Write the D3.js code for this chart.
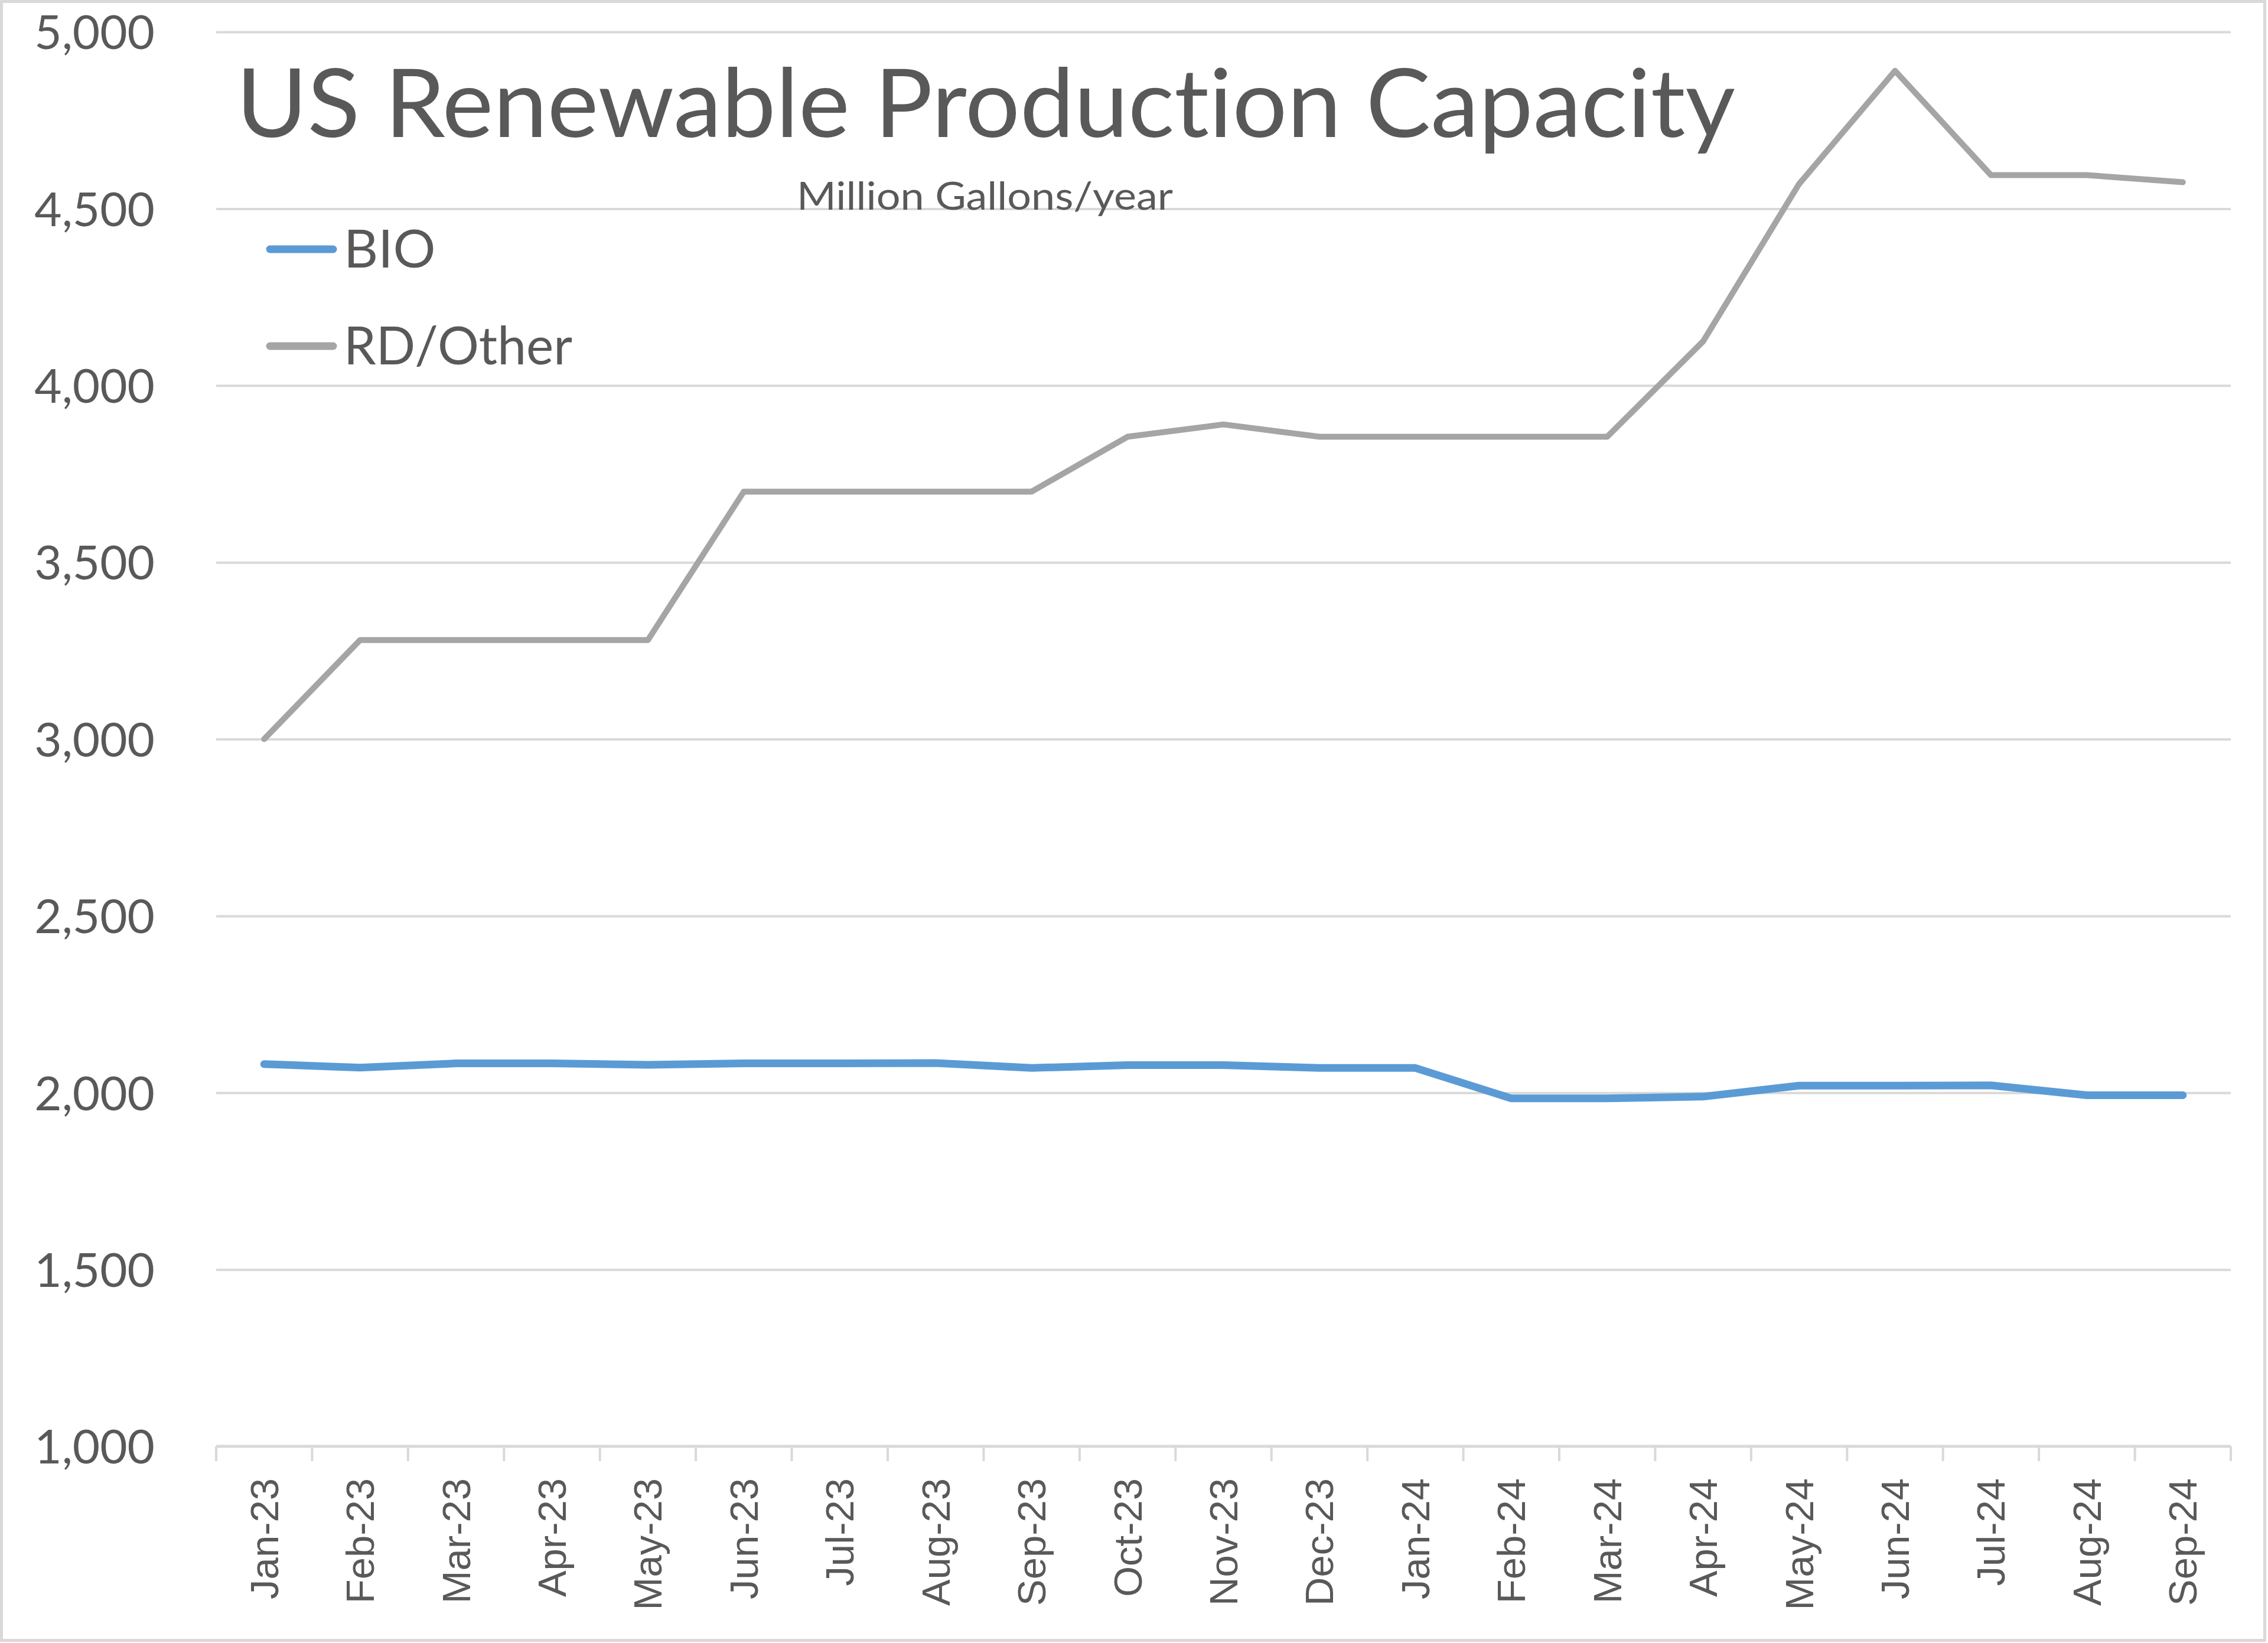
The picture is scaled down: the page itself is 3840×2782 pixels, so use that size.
<!DOCTYPE html>
<html>
<head>
<meta charset="utf-8">
<script src="https://cdn.jsdelivr.net/npm/d3@7"></script>
<style>
  html, body { margin: 0; padding: 0; background: #ffffff; }
  svg { display: block; }
  text { font-variant-ligatures: none; font-feature-settings: "liga" 0, "clig" 0; }
</style>
</head>
<body>
<script>
const months = ["Jan-23","Feb-23","Mar-23","Apr-23","May-23","Jun-23","Jul-23","Aug-23","Sep-23","Oct-23","Nov-23","Dec-23",
                "Jan-24","Feb-24","Mar-24","Apr-24","May-24","Jun-24","Jul-24","Aug-24","Sep-24"];
const bio = [2081, 2071, 2083, 2083, 2079, 2083, 2083, 2084, 2070, 2078, 2078, 2070,
             2070, 1984, 1984, 1989, 2020, 2020, 2021, 1993, 1993];
const rdOther = [3000, 3280, 3280, 3280, 3280, 3700, 3700, 3700, 3700, 3855, 3890, 3855,
                 3855, 3855, 3855, 4125, 4570, 4890, 4595, 4595, 4575];
const yTicks = [1000, 1500, 2000, 2500, 3000, 3500, 4000, 4500, 5000];
const seriesNames = ["BIO", "RD/Other"];
const titleText = "US Renewable Production Capacity";
const subtitleText = "Million Gallons/year";

const W = 3840, H = 2782;
const textColor = "#595959";
const gridColor = "#D9D9D9";
const colors = ["#5B9BD5", "#A5A5A5"];
const calibriLike = "Lato, 'Open Sans', sans-serif";

const svg = d3.select("body").append("svg").attr("width", W).attr("height", H);
svg.append("rect").attr("width", W).attr("height", H).attr("fill", "#fff");
svg.append("rect").attr("x", 2.5).attr("y", 2.5).attr("width", W - 8).attr("height", H - 7)
   .attr("fill", "none").attr("stroke", gridColor).attr("stroke-width", 5);

const x = d3.scaleBand().domain(months).range([366, 3777]);
const y = d3.scaleLinear().domain([1000, 5000]).range([2449, 54]);
const cx = m => x(m) + x.bandwidth() / 2;

// gridlines
const grid = svg.append("g").attr("transform", `translate(${x.range()[0]},0)`)
  .call(d3.axisLeft(y).tickValues(yTicks.filter(v => v > 1000)).tickSize(-(x.range()[1] - x.range()[0])).tickFormat(""));
grid.select(".domain").remove();
grid.selectAll(".tick line").attr("stroke", gridColor).attr("stroke-width", 4);

// y labels
const yAx = svg.append("g").attr("transform", `translate(262,0)`)
  .call(d3.axisLeft(y).tickValues(yTicks).tickSize(0).tickPadding(0).tickFormat(d3.format(",")));
yAx.select(".domain").remove();
yAx.selectAll("text").attr("font-family", calibriLike).attr("font-size", 80).attr("fill", textColor)
   .attr("dy", "0.36em");

// x axis line and tick marks at category boundaries
const xAx = svg.append("g").attr("transform", `translate(0,${y(1000)})`)
  .call(d3.axisBottom(x).tickSize(0).tickPadding(0));
xAx.select(".domain").remove();
xAx.append("line").attr("x1", x.range()[0]).attr("x2", x.range()[1]).attr("y1", 0).attr("y2", 0)
   .attr("stroke", gridColor).attr("stroke-width", 5);
const bounds = months.map(m => x(m)).concat([x.range()[1]]);
xAx.selectAll(".bt").data(bounds).join("line").attr("class", "bt")
   .attr("x1", d => d).attr("x2", d => d).attr("y1", 0).attr("y2", 25)
   .attr("stroke", gridColor).attr("stroke-width", 4);
xAx.selectAll(".tick text")
   .attr("font-family", "'Liberation Sans', Arial, sans-serif").attr("font-size", 67).attr("fill", textColor)
   .attr("text-anchor", "end").attr("dy", null).attr("y", 0)
   .attr("transform", "translate(0,54) rotate(-90)")
   .attr("dominant-baseline", "central");

// lines
const line = d3.line().x((d, i) => cx(months[i])).y(d => y(d));
const widths = [13, 10];
[bio, rdOther].forEach((s, k) => {
  svg.append("path").datum(s).attr("d", line).attr("fill", "none")
     .attr("stroke", colors[k]).attr("stroke-width", widths[k])
     .attr("stroke-linejoin", "round").attr("stroke-linecap", "round");
});

function fit(sel, target) {
  const w = sel.node().getComputedTextLength();
  if (Math.abs(w - target) / target > 0.01) {
    sel.attr("textLength", target).attr("lengthAdjust", "spacingAndGlyphs");
  }
}

// title
const t = svg.append("text").attr("x", 400).attr("y", 232).text(titleText)
  .attr("font-family", calibriLike).attr("font-size", 162).attr("fill", textColor);
fit(t, 2538);

const st = svg.append("text").attr("x", 1349).attr("y", 355).text(subtitleText)
  .attr("font-family", calibriLike).attr("font-size", 65).attr("fill", textColor);
fit(st, 637);

// legend
const legY = [422, 586];
const legW = [null, 387];
seriesNames.forEach((n, k) => {
  svg.append("line").attr("x1", 457).attr("x2", 564).attr("y1", legY[k]).attr("y2", legY[k])
     .attr("stroke", colors[k]).attr("stroke-width", 13).attr("stroke-linecap", "round");
  const lt = svg.append("text").attr("x", 582).attr("y", legY[k] + 31).text(n)
     .attr("font-family", calibriLike).attr("font-size", 90).attr("fill", textColor);
  if (legW[k]) fit(lt, legW[k]);
});
</script>
</body>
</html>
